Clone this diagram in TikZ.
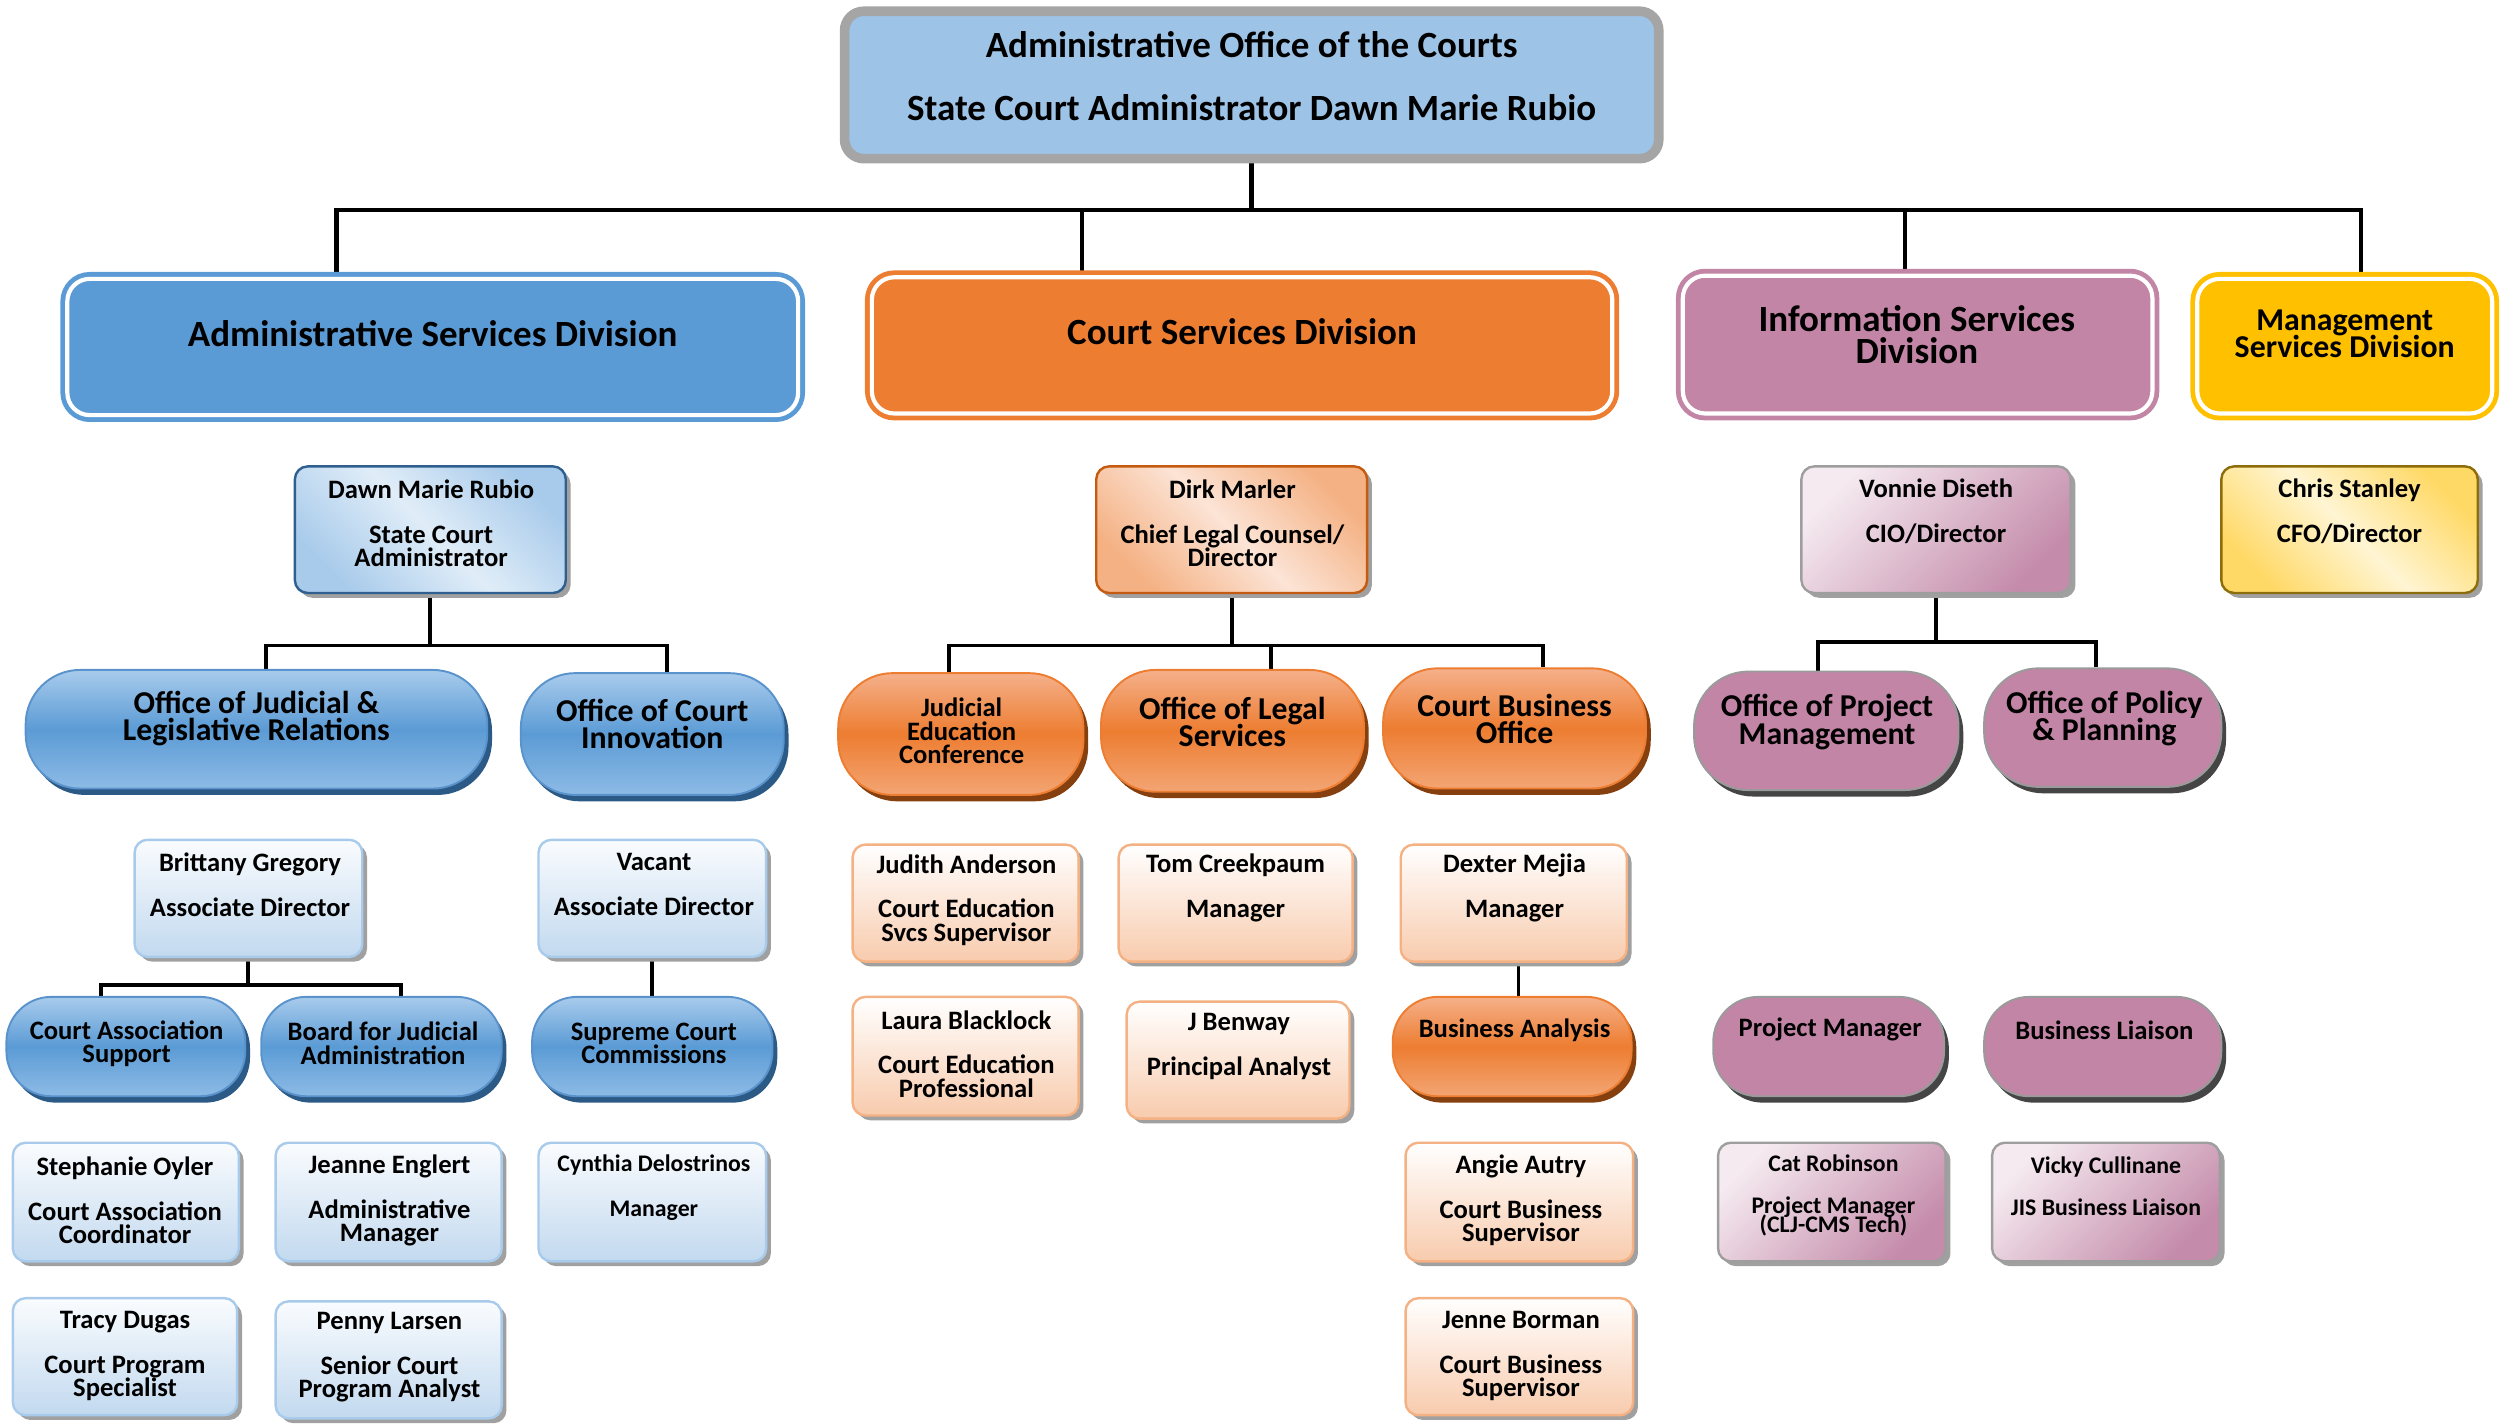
\documentclass[tikz,border=0pt]{standalone}
\usepackage{fontspec}
\setmainfont{Carlito}
\usetikzlibrary{shadows,backgrounds}
\def\pxu{0.80135pt}
\definecolor{topgray}{HTML}{A5A5A5}
\definecolor{topfill}{HTML}{9DC3E6}
\definecolor{ablue}{HTML}{5B9BD5}
\definecolor{aorange}{HTML}{ED7D31}
\definecolor{apurple}{HTML}{C285A5}
\definecolor{ayellow}{HTML}{FFC000}
\definecolor{bpilltop}{HTML}{A8CBEC}
\definecolor{bpillbot}{HTML}{8DBBE6}
\definecolor{bpillbord}{HTML}{5A93CC}
\definecolor{bshadow}{HTML}{2C5A87}
\definecolor{opilltop}{HTML}{F5B08A}
\definecolor{opillbot}{HTML}{F3A574}
\definecolor{opillbord}{HTML}{ED7D31}
\definecolor{oshadow}{HTML}{86400F}
\definecolor{ppillbord}{HTML}{9A9A9A}
\definecolor{pshadow}{HTML}{454545}
\definecolor{lbtop}{HTML}{FAFCFE}
\definecolor{lbbot}{HTML}{C2D9EF}
\definecolor{lbbord}{HTML}{A9CBEB}
\definecolor{lotop}{HTML}{FFFFFF}
\definecolor{lobot}{HTML}{F8CBAD}
\definecolor{lobord}{HTML}{F4B183}
\definecolor{dawnc}{HTML}{A9CBEB}
\definecolor{dawnm}{HTML}{E0EDF8}
\definecolor{dawnb}{HTML}{2E5F8E}
\definecolor{dirkc}{HTML}{F4B183}
\definecolor{dirkm}{HTML}{FCE4D6}
\definecolor{dirkb}{HTML}{C55A11}
\definecolor{plight}{HTML}{F5EAF0}
\definecolor{pdark}{HTML}{C48BAA}
\definecolor{pbord}{HTML}{9E9E9E}
\definecolor{chrisc}{HTML}{FFD966}
\definecolor{chrism}{HTML}{FFF5D3}
\definecolor{chrisb}{HTML}{8C6D0A}
\definecolor{sgray}{HTML}{A0A0A0}
\newcommand{\fA}{\fontsize{18.5pt}{16pt}\selectfont\bfseries\lineskiplimit=-\maxdimen}
\newcommand{\fB}{\fontsize{15.9pt}{13.6pt}\selectfont\bfseries\lineskiplimit=-\maxdimen}
\newcommand{\fC}{\fontsize{13.3pt}{11.6pt}\selectfont\bfseries\lineskiplimit=-\maxdimen}
\newcommand{\fD}{\fontsize{11.9pt}{9.8pt}\selectfont\bfseries\lineskiplimit=-\maxdimen}
\newcommand{\bx}[6]{\node[#1, minimum width={(#5-(#3))*\pxu}, minimum height={(#6-(#4))*\pxu}] (#2) at ({((#3)+(#5))/2},{((#4)+(#6))/2}) {};}
\newcommand{\tx}[5]{\node[txt, font=#1] (#2) at (#3,#4) {#5};}
\tikzset{
  every node/.style={inner sep=0pt},
  txt/.style={align=center, inner sep=0pt, text=black},
  conn/.style={line width=2.4*\pxu, black},
  topbox/.style={draw=topgray, line width=6*\pxu, fill=topfill, rounded corners=12*\pxu},
  divbox/.style={draw=#1, fill=#1, line width=3*\pxu, double=white, double distance=2.6*\pxu, rounded corners=14*\pxu},
  pr/.style={rounded corners=#1*\pxu},
  gshadow/.style={drop shadow={shadow xshift=3*\pxu, shadow yshift=-3*\pxu, fill=#1, opacity=1}},
  bpill/.style={draw=bpillbord, line width=1.2*\pxu, top color=bpilltop, bottom color=bpillbot, middle color=ablue, drop shadow={shadow xshift=3*\pxu, shadow yshift=-4*\pxu, fill=bshadow, opacity=1}},
  opill/.style={draw=opillbord, line width=1.2*\pxu, top color=opilltop, bottom color=opillbot, middle color=aorange, drop shadow={shadow xshift=3*\pxu, shadow yshift=-4*\pxu, fill=oshadow, opacity=1}},
  ppill/.style={draw=ppillbord, line width=1.2*\pxu, fill=apurple, drop shadow={shadow xshift=3*\pxu, shadow yshift=-4*\pxu, fill=pshadow, opacity=1}},
  lbbox/.style={draw=lbbord, line width=1.5*\pxu, top color=lbtop, bottom color=lbbot, pr=8, gshadow=sgray},
  lobox/.style={draw=lobord, line width=1.5*\pxu, top color=lotop, bottom color=lobot, pr=8, gshadow=sgray},
  lpbox/.style={draw=pbord, line width=1.5*\pxu, left color=plight, right color=pdark, shading angle=45, pr=8, gshadow=sgray},
  dawnbox/.style={draw=dawnb, line width=1.5*\pxu, left color=dawnc, right color=dawnc, middle color=dawnm, shading angle=-45, pr=8, gshadow=sgray},
  dirkbox/.style={draw=dirkb, line width=1.5*\pxu, left color=dirkc, right color=dirkc, middle color=dirkm, shading angle=-45, pr=8, gshadow=sgray},
  chrisbox/.style={draw=chrisb, line width=1.5*\pxu, left color=chrisc, right color=chrisc, middle color=chrism, shading angle=-45, pr=8, gshadow=sgray},
}
\begin{document}
\begin{tikzpicture}[x=0.80135pt, y=-0.80135pt]
\useasboundingbox (0,0) rectangle (1568,888);
% top
\bx{topbox}{top}{527}{7}{1035}{99}
\draw[topgray, line width=1.2*\pxu, rounded corners=8*\pxu] ([shift={(5,5)}]top.north west) rectangle ([shift={(-5,-5)}]top.south east);
\tx{\fA}{t-top}{781}{47.5}{Administrative Office of the Courts\\[15.25pt]State Court Administrator Dawn Marie Rubio}
% divisions
\bx{divbox=ablue}{asd}{42}{174}{498}{259}
\bx{divbox=aorange}{csd}{544}{173}{1006}{258}
\bx{divbox=apurple}{isd}{1050}{172}{1343}{258}
\bx{divbox=ayellow}{msd}{1371}{174}{1555}{258}
\tx{\fA}{t-asd}{270}{208}{Administrative Services Division}
\tx{\fA}{t-csd}{775}{207}{Court Services Division}
\tx{\fA}{t-isd}{1196}{209}{Information Services\\Division}
\tx{\fB}{t-msd}{1463}{208.5}{Management\\Services Division}
% level 2
\bx{dawnbox}{dawn}{184}{291}{353}{370}
\bx{dirkbox}{dirk}{684}{291}{853}{370}
\bx{lpbox}{vonnie}{1124}{291}{1292}{370}
\bx{chrisbox}{chris}{1386}{291}{1546}{370}
\tx{\fC}{t-dawn}{269}{326.5}{Dawn Marie Rubio\\[10.8pt]State Court\\Administrator}
\tx{\fC}{t-dirk}{769}{326.5}{Dirk Marler\\[10.8pt]Chief Legal Counsel/\\Director}
\tx{\fC}{t-vonnie}{1208}{319}{Vonnie Diseth\\[10.8pt]CIO/Director}
\tx{\fC}{t-chris}{1466}{319}{Chris Stanley\\[10.8pt]CFO/Director}
% level 3 pills
\bx{bpill,pr=34}{ojlr}{16}{418}{304}{492}
\bx{bpill,pr=34}{oci}{325}{420}{489}{496}
\bx{opill,pr=34}{jec}{523}{420}{676}{496}
\bx{opill,pr=34}{ols}{687}{418}{851}{494}
\bx{opill,pr=34}{cbo}{863}{417}{1027}{492}
\bx{ppill,pr=34}{opm}{1057}{419}{1222}{493}
\bx{ppill,pr=34}{opp}{1238}{417}{1386}{491}
\tx{\fB}{t-ojlr}{160}{448.5}{Office of Judicial \&\\Legislative Relations}
\tx{\fB}{t-oci}{407}{451.5}{Office of Court\\Innovation}
\tx{\fC}{t-jec}{600}{456}{Judicial\\Education\\Conference}
\tx{\fB}{t-ols}{769}{450.5}{Office of Legal\\Services}
\tx{\fB}{t-cbo}{945}{448.5}{Court Business\\Office}
\tx{\fB}{t-opm}{1140}{450.5}{Office of Project\\Management}
\tx{\fB}{t-opp}{1313}{448.5}{Office of Policy\\\& Planning}
% level 4
\bx{lbbox}{brit}{84}{524}{226}{597}
\bx{lbbox}{vac}{336}{524}{478}{597}
\bx{lobox}{judith}{532}{527}{673}{600}
\bx{lobox}{tom}{698}{527}{844}{600}
\bx{lobox}{dexter}{874}{527}{1015}{600}
\tx{\fC}{t-brit}{156}{552}{Brittany Gregory\\[10.8pt]Associate Director}
\tx{\fC}{t-vac}{408}{552}{Vacant\\[10.8pt]Associate Director}
\tx{\fC}{t-judith}{603}{561.5}{Judith Anderson\\[10.8pt]Court Education\\Svcs Supervisor}
\tx{\fC}{t-tom}{771}{554}{Tom Creekpaum\\[10.8pt]Manager}
\tx{\fC}{t-dexter}{945}{554}{Dexter Mejia\\[10.8pt]Manager}
% level 5
\bx{bpill,pr=28}{cas}{4}{622}{153}{684}
\bx{bpill,pr=28}{bja}{163}{622}{313}{684}
\bx{bpill,pr=28}{scc}{332}{622}{482}{684}
\bx{opill,pr=28}{ba}{869}{622}{1018}{684}
\bx{ppill,pr=28}{pm}{1069}{622}{1213}{684}
\bx{ppill,pr=28}{bl}{1238}{622}{1386}{684}
\bx{lobox}{laura}{532}{622}{673}{696}
\bx{lobox}{jb}{703}{625}{842}{698}
\tx{\fC}{t-cas}{79}{651}{Court Association\\Support}
\tx{\fC}{t-bja}{239}{651}{Board for Judicial\\Administration}
\tx{\fC}{t-scc}{408}{651}{Supreme Court\\Commissions}
\tx{\fC}{t-ba}{945}{643}{Business Analysis}
\tx{\fC}{t-pm}{1142}{642}{Project Manager}
\tx{\fC}{t-bl}{1313}{643}{Business Liaison}
\tx{\fC}{t-laura}{603}{657.5}{Laura Blacklock\\[10.8pt]Court Education\\Professional}
\tx{\fC}{t-jb}{773}{653}{J Benway\\[10.8pt]Principal Analyst}
% level 6
\bx{lbbox}{steph}{8}{713}{149}{787}
\bx{lbbox}{jeanne}{172}{713}{313}{787}
\bx{lbbox}{cynthia}{336}{713}{478}{787}
\bx{lobox}{angie}{877}{713}{1019}{787}
\bx{lpbox}{cat}{1072}{713}{1214}{787}
\bx{lpbox}{vicky}{1243}{713}{1385}{787}
\tx{\fC}{t-steph}{78}{749}{Stephanie Oyler\\[10.8pt]Court Association\\Coordinator}
\tx{\fC}{t-jeanne}{243}{749}{Jeanne Englert\\[10.8pt]Administrative\\Manager}
\tx{\fD}{t-cynthia}{408}{741}{Cynthia Delostrinos\\[12.6pt]Manager}
\tx{\fC}{t-angie}{949}{749}{Angie Autry\\[10.8pt]Court Business\\Supervisor}
\tx{\fD}{t-cat}{1144}{746}{Cat Robinson\\[11pt]Project Manager\\(CLJ-CMS Tech)}
\tx{\fD}{t-vicky}{1314}{740}{Vicky Cullinane\\[11pt]JIS Business Liaison}
% level 7
\bx{lbbox}{tracy}{8}{810}{148}{883}
\bx{lbbox}{penny}{172}{812}{313}{885}
\bx{lobox}{jenne}{877}{810}{1019}{883}
\tx{\fC}{t-tracy}{78}{846}{Tracy Dugas\\[10.8pt]Court Program\\Specialist}
\tx{\fC}{t-penny}{243}{847}{Penny Larsen\\[10.8pt]Senior Court\\Program Analyst}
\tx{\fC}{t-jenne}{949}{846}{Jenne Borman\\[10.8pt]Court Business\\Supervisor}
% connectors
\begin{pgfonlayer}{background}
\draw[conn, line width=2.8*\pxu] (top.south) -- ++(0,29) coordinate (bar);
\draw[conn, line width=2.8*\pxu] (bar) -| ([xshift=-60*\pxu]asd.north);
\draw[conn, line width=2.8*\pxu] (bar) -| ([xshift=-100*\pxu]csd.north);
\draw[conn, line width=2.8*\pxu] (bar) -| ([xshift=-8*\pxu]isd.north);
\draw[conn, line width=2.8*\pxu] (bar) -| ([xshift=10*\pxu]msd.north);
\draw[conn] (dawn.south) -- ++(0,32) coordinate (dj);
\draw[conn] (dj) -| ([xshift=6*\pxu]ojlr.north);
\draw[conn] (dj) -| ([xshift=9*\pxu]oci.north);
\draw[conn] (dirk.south) -- ++(0,32) coordinate (kj);
\draw[conn] (kj) -| ([xshift=-7.5*\pxu]jec.north);
\draw[conn] (kj) -| ([xshift=24*\pxu]ols.north);
\draw[conn] (kj) -| ([xshift=18*\pxu]cbo.north);
\draw[conn] (vonnie.south) -- ++(0,30) coordinate (vj);
\draw[conn] (vj) -| ([xshift=-5*\pxu]opm.north);
\draw[conn] (vj) -| ([xshift=-4*\pxu]opp.north);
\draw[conn] (brit.south) -- ++(0,17) coordinate (bj);
\draw[conn] (bj) -| ([xshift=-15.5*\pxu]cas.north);
\draw[conn] (bj) -| ([xshift=12*\pxu]bja.north);
\draw[conn] (vac.south) -- (vac.south |- scc.north);
\draw[conn] ([xshift=3*\pxu]dexter.south) -- ([xshift=3*\pxu]dexter.south |- ba.north);
\end{pgfonlayer}
\end{tikzpicture}
\end{document}
